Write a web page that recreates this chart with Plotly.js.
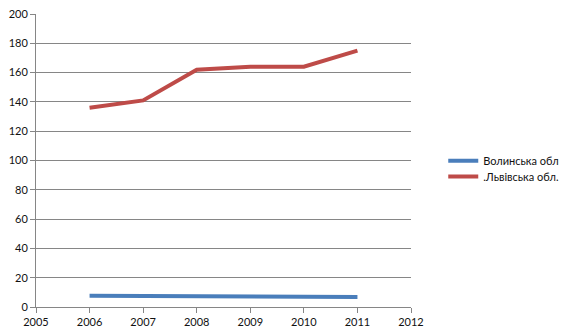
<!DOCTYPE html>
<html>
<head>
<meta charset="utf-8">
<script src="https://cdn.plot.ly/plotly-3.0.1.min.js"></script>
<style>html,body{margin:0;padding:0;background:#fff;}#chart{width:576px;height:336px;}</style>
</head>
<body>
<div id="chart"></div>
<script>
const years = [2006, 2007, 2008, 2009, 2010, 2011];
const volyn = [7.7, 7.6, 7.5, 7.4, 7.0, 6.8];
const lviv = [136, 141, 162, 164, 164, 175];
const seriesNames = ["Волинська обл", ".Львівська обл."];
const xTicks = [2005, 2006, 2007, 2008, 2009, 2010, 2011, 2012];
const yTicks = [0, 20, 40, 60, 80, 100, 120, 140, 160, 180, 200];

const traces = [
  {x: years, y: volyn, name: seriesNames[0], mode: 'lines', line: {color: '#4A7EBB', width: 4}, legend: 'legend'},
  {x: years, y: lviv, name: seriesNames[1], mode: 'lines', line: {color: '#BE4B48', width: 4}, legend: 'legend2'}
];
const legFont = {family: 'Lato, "Open Sans", sans-serif', size: 11, color: '#111'};
const layout = {
  width: 576, height: 336,
  margin: {l: 36, r: 165, t: 14, b: 29, pad: 0},
  paper_bgcolor: '#fff', plot_bgcolor: '#fff',
  font: {family: 'Lato, "Open Sans", sans-serif', size: 11, color: '#111'},
  showlegend: true,
  legend: {x: 1.086, y: 0.499, xanchor: 'left', yanchor: 'middle', font: legFont, itemwidth: 30, bgcolor: 'rgba(0,0,0,0)'},
  legend2: {x: 1.086, y: 0.445, xanchor: 'left', yanchor: 'middle', font: legFont, itemwidth: 30, bgcolor: 'rgba(0,0,0,0)'},
  xaxis: {range: [2005, 2012], tickvals: xTicks, ticktext: xTicks.map(String), showgrid: false, zeroline: false,
    showline: true, linecolor: '#868686', linewidth: 1, ticks: 'outside', ticklen: 5, tickcolor: '#868686', fixedrange: true},
  yaxis: {range: [0, 200], tickvals: yTicks, ticktext: yTicks.map(String), showgrid: true, gridcolor: '#868686', gridwidth: 1,
    zeroline: false, showline: true, linecolor: '#868686', linewidth: 1, ticks: 'outside', ticklen: 5, tickcolor: '#868686', fixedrange: true}
};
Plotly.newPlot('chart', traces, layout, {displayModeBar: false, staticPlot: true});
</script>
</body>
</html>
